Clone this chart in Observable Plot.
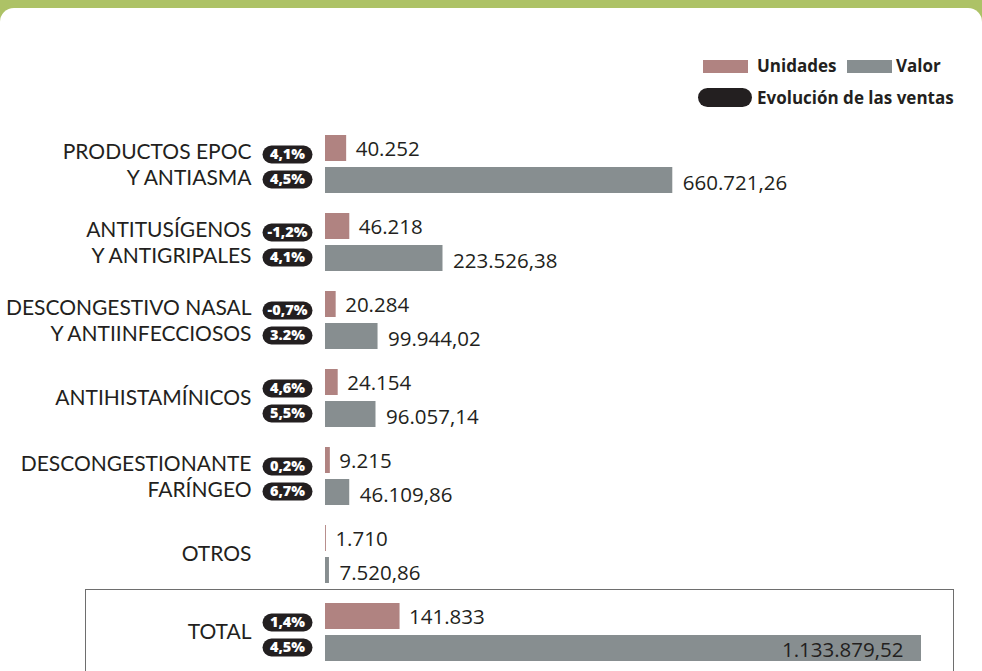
<!DOCTYPE html>
<html>
<head>
<meta charset="utf-8">
<script src="https://cdn.jsdelivr.net/npm/d3@7"></script>
<script src="https://cdn.jsdelivr.net/npm/@observablehq/plot@0.6"></script>
<style>
  html, body { margin: 0; padding: 0; }
  body { width: 982px; height: 671px; overflow: hidden; position: relative; background: #adc266; font-family: "Open Sans", sans-serif; color: #231f20; }
  #panel { position: absolute; left: 0; top: 8px; width: 982px; height: 663px; background: #fff; border-radius: 14px 14px 0 0; }
  #totalbox { position: absolute; left: 85px; top: 589px; width: 869px; height: 120px; border: 1px solid #6e6e6e; box-sizing: border-box; }
  #chart { position: absolute; left: 0; top: 0; }
  .lg { position: absolute; font-weight: 700; font-size: 17px; line-height: 17px; white-space: nowrap; }
  .sw { position: absolute; }
</style>
</head>
<body>
<div id="panel"></div>
<div id="totalbox"></div>
<div id="chart"></div>
<div class="sw" style="left:703px;top:60px;width:45px;height:13px;background:#b08381"></div>
<div class="lg" style="left:757px;top:57px">Unidades</div>
<div class="sw" style="left:847px;top:60px;width:45px;height:13px;background:#878e90"></div>
<div class="lg" style="left:896px;top:57px">Valor</div>
<div class="sw" style="left:698px;top:88px;width:54px;height:19px;border-radius:10px;background:#231f20"></div>
<div class="lg" style="left:757px;top:89px">Evolución de las ventas</div>
<script>
const categories = [
  "PRODUCTOS EPOC\nY ANTIASMA",
  "ANTITUSÍGENOS\nY ANTIGRIPALES",
  "DESCONGESTIVO NASAL\nY ANTIINFECCIOSOS",
  "ANTIHISTAMÍNICOS",
  "DESCONGESTIONANTE\nFARÍNGEO",
  "OTROS",
  "TOTAL"
];
const unidades = [40252, 46218, 20284, 24154, 9215, 1710, 141833];
const valor = [660721.26, 223526.38, 99944.02, 96057.14, 46109.86, 7520.86, 1133879.52];
const evolUnidades = ["4,1%", "-1,2%", "-0,7%", "4,6%", "0,2%", null, "1,4%"];
const evolValor = ["4,5%", "4,1%", "3.2%", "5,5%", "6,7%", null, "4,5%"];
const series = ["Unidades", "Valor"];
const colors = ["#b08381", "#878e90"];

const loc = d3.formatLocale({decimal: ",", thousands: ".", grouping: [3], currency: ["", ""]});
const fmtU = loc.format(",d");
const fmtV = loc.format(",.2f");

const rows = categories.flatMap((c, i) => [
  {cat: c, series: "Unidades", value: unidades[i], label: fmtU(unidades[i]), evol: evolUnidades[i]},
  {cat: c, series: "Valor", value: valor[i], label: fmtV(valor[i]), evol: evolValor[i]}
]);
const isTotal = d => d.cat === "TOTAL" && d.series === "Valor";
const uRows = rows.filter(d => d.series === "Unidades");
const vRows = rows.filter(d => d.series === "Valor" && !isTotal(d));

// category label lines
const line1 = [], line2 = [], single = [];
for (const c of categories) {
  const parts = c.split("\n");
  if (parts.length === 2) {
    line1.push({cat: c, series: "Unidades", text: parts[0]});
    line2.push({cat: c, series: "Valor", text: parts[1]});
  } else {
    single.push({cat: c, text: c});
  }
}

const capsule = {
  draw(ctx) {
    const w = 25, h = 9;
    ctx.moveTo(-w + h, -h);
    ctx.lineTo(w - h, -h);
    ctx.arc(w - h, 0, h, -Math.PI / 2, Math.PI / 2);
    ctx.lineTo(-w + h, h);
    ctx.arc(-w + h, 0, h, Math.PI / 2, Math.PI * 3 / 2);
    ctx.closePath();
  }
};

const pillU = uRows.filter(d => d.evol);
const pillV = rows.filter(d => d.series === "Valor" && d.evol);

const labelStyle = {x: 0, fy: "cat", text: "text", textAnchor: "end", dx: -74, fontSize: 21, fontFamily: "Lato", fill: "#231f20"};

const chart = Plot.plot({
  width: 982,
  height: 671,
  marginLeft: 325,
  marginRight: 61,
  marginTop: 125,
  marginBottom: 0,
  style: {background: "transparent", fontFamily: "Open Sans", color: "#231f20"},
  x: {domain: [0, d3.max(valor)], axis: null},
  y: {domain: series, paddingInner: 0.1875, paddingOuter: 0, round: false, axis: null},
  fy: {domain: categories, paddingInner: 20 / 78, paddingOuter: 10 / 78, round: false, axis: null},
  color: {domain: series, range: colors},
  marks: [
    Plot.barX(rows, {x: "value", y: "series", fy: "cat", fill: "series"}),
    Plot.text(uRows, {x: "value", y: "series", fy: "cat", text: "label", textAnchor: "start", dx: 9, dy: 1, fontSize: 20.5, fill: "#231f20"}),
    Plot.text(vRows, {x: "value", y: "series", fy: "cat", text: "label", textAnchor: "start", dx: 10, dy: 3, fontSize: 20.5, fill: "#231f20"}),
    Plot.text(rows.filter(isTotal), {x: "value", y: "series", fy: "cat", text: "label", textAnchor: "end", dx: -18, dy: 2, fontSize: 20.5, fill: "#231f20"}),
    Plot.text(line1, {...labelStyle, y: "series", dy: 4}),
    Plot.text(line2, {...labelStyle, y: "series", dy: -2}),
    Plot.text(single, {...labelStyle, frameAnchor: "middle", dy: 0}),
    Plot.dot(pillU, {x: 0, y: "series", fy: "cat", symbol: capsule, fill: "#231f20", dx: -38, dy: 6}),
    Plot.dot(pillV, {x: 0, y: "series", fy: "cat", symbol: capsule, fill: "#231f20", dx: -38, dy: -1}),
    Plot.text(pillU, {x: 0, y: "series", fy: "cat", text: "evol", fill: "white", fontWeight: 800, fontSize: 14.5, dx: -38, dy: 6}),
    Plot.text(pillV, {x: 0, y: "series", fy: "cat", text: "evol", fill: "white", fontWeight: 800, fontSize: 14.5, dx: -38, dy: -1})
  ]
});
document.getElementById("chart").appendChild(chart);
</script>
</body>
</html>
